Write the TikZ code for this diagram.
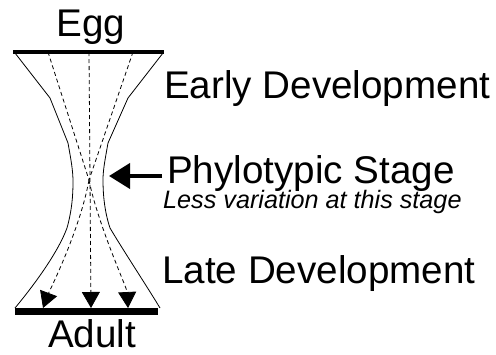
\documentclass[tikz,border=0pt]{standalone}
\usepackage{fontspec}
\setmainfont{Liberation Sans}
\usepackage{tikz}
\usetikzlibrary{arrows.meta}
\tikzset{
    every node/.style={inner sep=0pt, font=\fontsize{38.6}{44}\selectfont}
}
\tikzset{
    outline/.style={line width=0.8pt},
    lineage/.style={line width=0.8pt, dash pattern=on 4pt off 3pt},
    lineagetip/.style={lineage, -{Triangle[length=16pt,width=18pt]}},
    bar/.style={line width=#1}
}

\begin{document}
\begin{tikzpicture}[x=1pt,y=-1pt]
	\useasboundingbox (0,0) rectangle (496,354);
	% labels
	\node (egg) [anchor=base] at (91,36) {Egg};
	\node (adult) [anchor=base] at (92,347) {Adult};
	\node (early) [anchor=base west] at (164,98) {Early Development};
	\node (phylo) [anchor=base west] at (167,183) {Phylotypic Stage};
	\node (less) [anchor=base west, font=\fontsize{25.2}{30}\selectfont\itshape] at (163,208) {Less variation at this stage};
	\node (late) [anchor=base west] at (162,283) {Late Development};
	% points on the bars
	\coordinate (egg-l) at (48,52);
	\coordinate (egg-c) at (89,52);
	\coordinate (egg-r) at (133,52);
	\coordinate (cross) at (89,180);
	\coordinate (adult-l) at (43,308);
	\coordinate (adult-c) at (91,308);
	\coordinate (adult-r) at (128,308);
	\coordinate (waist) at (109,176);
	\coordinate (pointer) at (162,176);
	% funnel
	\draw[outline] (15,53) -- (50,98) -- (68,143) .. controls (71,160) and (73,170) .. (73,182)
		.. controls (73,195) and (72,210) .. (67,228) .. controls (57,255) and (30,290) .. (15,308);
	\draw[outline] (163,53) -- (128,98) -- (108,143) .. controls (105,160) and (103,170) .. (103,180)
		.. controls (103,192) and (104,210) .. (110,228) .. controls (123,250) and (148,288) .. (160,308);
	\draw[bar=4pt] (13,52) -- (164,52);
	\draw[bar=7pt] (15,311) -- (158,311);
	% lineages
	\draw[lineage] (egg-l) -- (cross);
	\draw[lineage] (egg-r) -- (cross);
	\draw[lineagetip] (egg-c) -- (adult-c);
	\draw[lineagetip] (cross) .. controls (80,230) and (49,292) .. (adult-l);
	\draw[lineagetip] (cross) .. controls (98,225) and (127,288) .. (adult-r);
	\draw[line width=4pt, -{Triangle[length=21pt,width=25pt]}] (pointer) -- (waist);
\end{tikzpicture}
\end{document}
